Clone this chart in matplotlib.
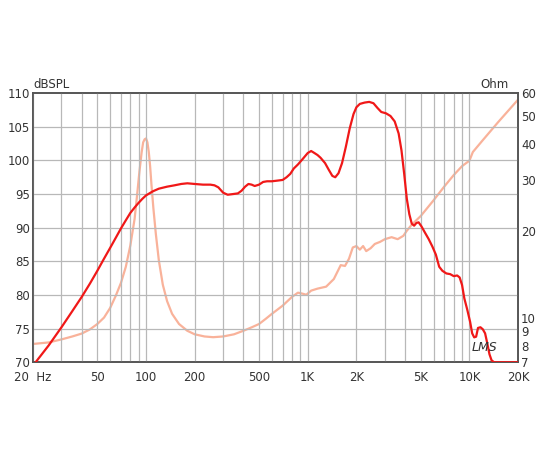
import numpy as np
import matplotlib.pyplot as plt
from matplotlib.ticker import FixedLocator, NullLocator

spl_freq = [20, 25, 30, 35, 40, 45, 50, 55, 60, 65, 70, 75, 80, 85, 90, 95, 100, 110, 120,
            135, 150, 165, 180, 200, 225, 250, 265, 280, 300, 320, 345, 370, 390, 410, 430,
            450, 470, 500, 530, 560, 600, 650, 700, 740, 780, 820, 870, 930, 1000, 1050,
            1100, 1150, 1200, 1280, 1350, 1420, 1480, 1550, 1630, 1720, 1820, 1920, 2000,
            2100, 2250, 2400, 2550, 2700, 2850, 3050, 3250, 3450, 3650, 3800, 3950, 4100,
            4250, 4400, 4550, 4700, 4850, 5050, 5300, 5600, 5900, 6200, 6500, 6800, 7200,
            7600, 8000, 8400, 8700, 9000, 9300, 9700, 10100, 10400, 10700, 11000, 11300,
            11700, 12100, 12500, 12900, 13300, 13700, 14200, 20000]
spl_db = [69.5, 72.5, 75.2, 77.6, 79.7, 81.7, 83.6, 85.4, 87.0, 88.5, 89.9, 91.1, 92.2, 93.0,
          93.7, 94.3, 94.8, 95.4, 95.8, 96.1, 96.3, 96.5, 96.6, 96.5, 96.4, 96.4, 96.3, 96.0,
          95.2, 94.9, 95.0, 95.1, 95.5, 96.1, 96.5, 96.4, 96.2, 96.4, 96.8, 96.9, 96.9,
          97.0, 97.1, 97.5, 98.0, 98.8, 99.4, 100.2, 101.1, 101.4, 101.1, 100.8, 100.4,
          99.6, 98.6, 97.7, 97.5, 98.1, 99.6, 102.0, 104.8, 106.9, 107.9, 108.4, 108.6,
          108.7, 108.5, 107.8, 107.2, 107.0, 106.6, 105.8, 104.0, 101.5, 98.0, 94.3, 92.0,
          90.6, 90.3, 90.7, 90.8, 90.2, 89.3, 88.3, 87.2, 86.0, 84.2, 83.6, 83.2, 83.1,
          82.8, 82.9, 82.6, 81.5, 79.5, 77.8, 76.0, 74.3, 73.7, 73.8, 75.1, 75.2, 74.9,
          74.3, 72.8, 71.2, 70.3, 70.0, 70.0]

imp_freq = [20, 25, 30, 35, 40, 45, 50, 55, 60, 65, 70, 75, 80, 85, 88, 91, 94, 96, 98, 100,
            102, 104, 106, 108, 111, 115, 120, 127, 135, 145, 160, 180, 200, 230, 260, 300,
            350, 400, 450, 500, 550, 600, 700, 800, 870, 930, 980, 1050, 1150, 1300, 1450,
            1600, 1700, 1800, 1900, 2000, 2100, 2200, 2300, 2450, 2600, 2800, 3000, 3300,
            3600, 3900, 4100, 4400, 5000, 6000, 7000, 8000, 9000, 10000, 10500, 12000,
            15000, 20000]
imp_ohm = [8.1, 8.2, 8.4, 8.6, 8.8, 9.1, 9.5, 10.0, 10.8, 11.9, 13.2, 15.0, 17.8, 22.0, 26.5,
           32.0, 37.5, 40.5, 41.5, 41.8, 40.5, 37.5, 33.5, 29.0, 24.0, 19.5, 15.8, 13.0,
           11.4, 10.3, 9.5, 9.0, 8.75, 8.6, 8.55, 8.6, 8.75, 9.0, 9.25, 9.5, 9.9, 10.3, 11.0,
           11.8, 12.2, 12.1, 12.0, 12.4, 12.6, 12.8, 13.6, 15.2, 15.1, 16.0, 17.5, 17.7,
           17.2, 17.7, 17.0, 17.4, 18.0, 18.3, 18.7, 19.0, 18.7, 19.2, 20.0, 21.0, 22.5,
           25.5, 28.5, 31.2, 33.5, 35.0, 37.5, 41.0, 47.5, 57.0]

x_ticks = [20, 50, 100, 200, 500, 1000, 2000, 5000, 10000, 20000]
x_labels = ['20  Hz', '50', '100', '200', '500', '1K', '2K', '5K', '10K', '20K']
ohm_ticks = [7, 8, 9, 10, 20, 30, 40, 50, 60]

fig = plt.figure(figsize=(5.5, 4.5), dpi=100)
ax = fig.add_axes([0.06, 0.195, 0.882, 0.598])
ax2 = ax.twinx()

grid_x = [m * d for d in [10, 100, 1000, 10000] for m in range(1, 10) if 20 <= m * d <= 20000]
for g in grid_x:
    ax.axvline(g, color='#b8b8b8', lw=0.9, zorder=0)
for g in range(75, 110, 5):
    ax.axhline(g, color='#b8b8b8', lw=0.9, zorder=0)

ax2.plot(imp_freq, imp_ohm, color='#f9b29a', lw=1.6, zorder=2)
ax.plot(spl_freq, spl_db, color='#f01818', lw=1.6, zorder=3)
ax.set_zorder(ax2.get_zorder() + 1)
ax.patch.set_visible(False)

ax.set_xscale('log')
ax.set_xlim(20, 20000)
ax.set_ylim(70, 110)
ax.xaxis.set_major_locator(FixedLocator(x_ticks))
ax.xaxis.set_minor_locator(NullLocator())
ax.set_xticklabels(x_labels)
ax.set_yticks(range(70, 111, 5))

ax2.set_yscale('log')
ax2.set_ylim(7, 60)
ax2.yaxis.set_major_locator(FixedLocator(ohm_ticks))
ax2.yaxis.set_minor_locator(NullLocator())
ax2.set_yticklabels([str(t) for t in ohm_ticks])

for a in (ax, ax2):
    a.tick_params(length=0, labelsize=8.5, colors='#333333', pad=2)
    for s in a.spines.values():
        s.set_color('#555555')
        s.set_linewidth(1.2)
ax.tick_params(axis='x', pad=6)

fig.text(0.06, 0.797, 'dBSPL', fontsize=8.5, color='#333333', va='bottom')
fig.text(0.925, 0.797, 'Ohm', fontsize=8.5, color='#333333', va='bottom', ha='right')
ax.text(0.93, 0.04, 'LMS', transform=ax.transAxes, fontsize=9, style='italic',
        color='#333333', ha='center')

fig.savefig('out.png')
